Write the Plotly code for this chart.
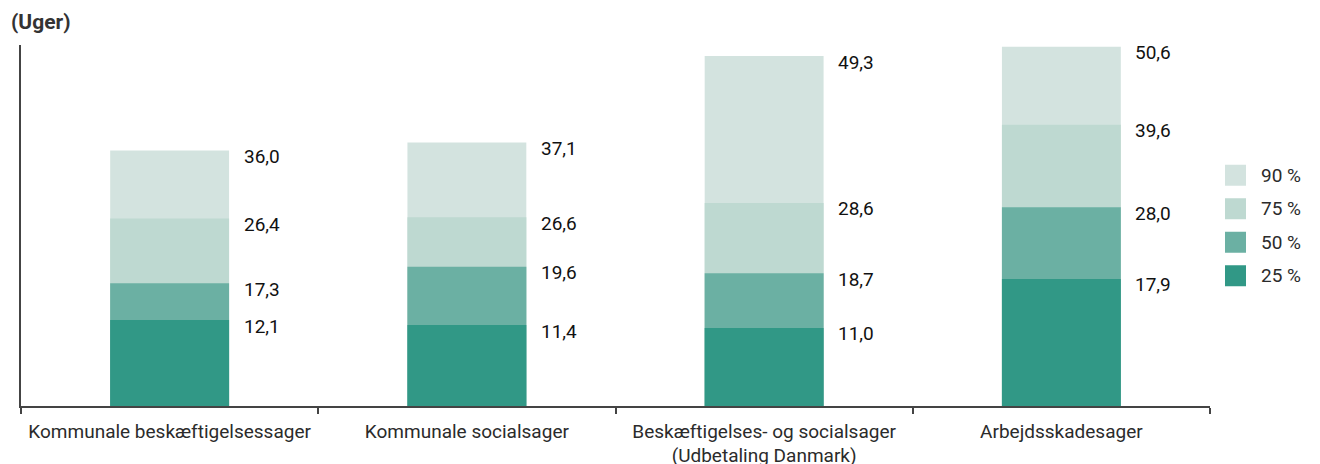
import plotly.graph_objects as go

categories = ['Kommunale beskæftigelsessager', 'Kommunale socialsager',
              'Beskæftigelses- og socialsager<br>(Udbetaling Danmark)', 'Arbejdsskadesager']

p25 = [12.1, 11.4, 11.0, 17.9]
p50 = [17.3, 19.6, 18.7, 28.0]
p75 = [26.4, 26.6, 28.6, 39.6]
p90 = [36.0, 37.1, 49.3, 50.6]

series = [('90 %', p90, '#d3e3df'),
          ('75 %', p75, '#bed9d1'),
          ('50 %', p50, '#6bb0a3'),
          ('25 %', p25, '#319886')]

font = 'Roboto'
txt = '#2b2b2b'

# page body has an 8px margin, so margins are shifted by that
W, H = 1320, 464
ml, mr, mt, mb = 13, 118, 37, 66
pw = W - ml - mr
ph = H - mt - mb

fig = go.Figure()

# cumulative percentiles, drawn largest first and overlaid
for name, vals, col in series:
    fig.add_trace(go.Bar(x = categories, y = vals, name = name, marker_color = col,
                         marker_line_width = 0, width = 0.4, showlegend = False,
                         hoverinfo = 'x+y'))
    for c, v in zip(categories, vals):
        fig.add_annotation(x = c, y = v, text = f'{v:.1f}'.replace('.', ','),
                           showarrow = False, xanchor = 'left', yanchor = 'middle',
                           xshift = 72, yshift = -6,
                           font = dict(family = font, size = 19, color = '#111'))

# legend drawn by hand to get the big squares
for i, (name, vals, col) in enumerate(series):
    cy = 0.5 + (1.5 - i) * 33.5 / ph
    half = 10.5 / ph
    fig.add_shape(type = 'rect', xref = 'paper', yref = 'paper',
                  x0 = 1.0 + 15 / pw, x1 = 1.0 + 36 / pw, y0 = cy - half, y1 = cy + half,
                  fillcolor = col, line_width = 0)
    fig.add_annotation(text = name, xref = 'paper', yref = 'paper', x = 1.0 + 49 / pw, y = cy,
                       xanchor = 'left', yanchor = 'middle', showarrow = False,
                       font = dict(family = font, size = 19, color = txt))

fig.add_annotation(text = '<b>(Uger)</b>', xref = 'paper', yref = 'paper', x = 0, y = 1,
                   xanchor = 'left', yanchor = 'bottom', xshift = -12, yshift = 9,
                   showarrow = False, font = dict(family = font, size = 21, color = '#333'))

fig.update_layout(
    width = W, height = H,
    barmode = 'overlay',
    showlegend = False,
    plot_bgcolor = 'white', paper_bgcolor = 'white',
    margin = dict(l = ml, r = mr, t = mt, b = mb),
    font = dict(family = font, size = 19, color = txt),
    xaxis = dict(showline = True, linecolor = '#444', linewidth = 1.5,
                 ticks = 'outside', tickson = 'boundaries', ticklen = 6,
                 tickcolor = '#444', tickwidth = 1.5, showgrid = False,
                 ticklabelstandoff = 7, automargin = False,
                 tickfont = dict(size = 19, color = txt)),
    yaxis = dict(range = [0, 50.85], showline = True, linecolor = '#444', linewidth = 1.5,
                 showticklabels = False, showgrid = False, zeroline = False, ticks = '',
                 automargin = False),
)

fig.write_html('out.html')
